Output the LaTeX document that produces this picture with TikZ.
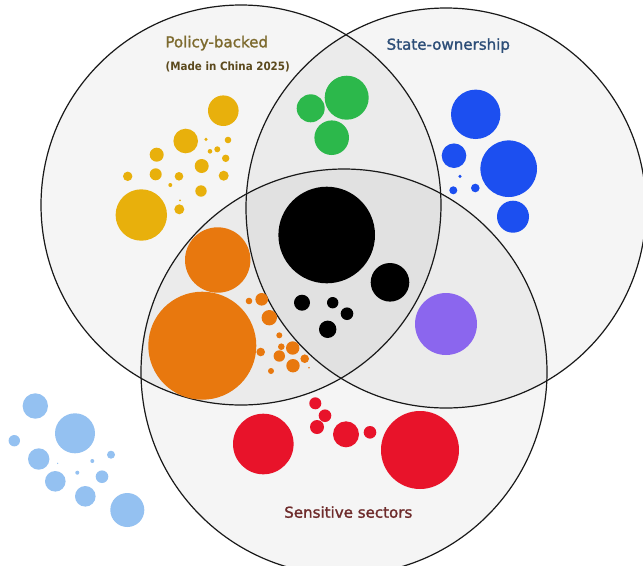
\documentclass[tikz,border=0pt]{standalone}
\usepackage{fontspec}
\setmainfont{DejaVu Sans}
\newfontfamily\lblfont{DejaVu Sans}[BoldFont=DejaVu Sans, BoldFeatures={FakeBold=1.5}]
\definecolor{cyellow}{HTML}{E8B00C}
\definecolor{corange}{HTML}{E8780E}
\definecolor{cpurple}{HTML}{8B66EE}
\definecolor{cgreen}{HTML}{2CB84B}
\definecolor{cblue}{HTML}{1C4FF0}
\definecolor{cred}{HTML}{E8132A}
\definecolor{clblue}{HTML}{94C1F1}
\definecolor{tpolicy}{HTML}{7D6A2E}
\definecolor{tmade}{HTML}{5C4A1E}
\definecolor{tstate}{HTML}{2D4E78}
\definecolor{tsens}{HTML}{6E2B2B}
\tikzset{
  setfill/.style={fill=black, fill opacity=0.04},
  setline/.style={draw=black!90, line width=0.9pt},
  biglabel/.style={font=\fontsize{11.3pt}{13pt}\lblfont\bfseries, anchor=base, inner sep=0pt},
  smalllabel/.style={font=\fontsize{8.6pt}{10pt}\selectfont\bfseries, anchor=base, inner sep=0pt}
}
\begin{document}
\begin{tikzpicture}[x=0.75pt,y=-0.75pt]
\useasboundingbox (0,0) rectangle (643,565);
\fill[white] (0,0) rectangle (643,565);
\clip (0,0) rectangle (643,565);
% set fills
\fill[setfill] (241,205) circle[radius=200];
\fill[setfill] (446,208) circle[radius=200];
\fill[setfill] (344,372) circle[radius=203];
% set outlines
\draw[setline] (241,205) circle[radius=200];
\draw[setline] (446,208) circle[radius=200];
\draw[setline] (344,372) circle[radius=203];
% yellow
\foreach \x/\y/\r in {223.3/110.7/15.3, 185.7/141/12.3, 156.7/154.7/7, 206/139.3/1.7,
  228/140/3.3, 217.3/149.3/3, 210/151.3/2.3, 225.7/158.3/3.7, 201.7/166/7,
  127.7/176.3/4.7, 155.7/174.3/6, 179/176.3/4.3, 223.7/175.7/5, 170.3/185/2,
  201/191/5.7, 180/200.3/1, 179.3/209.3/5, 141.3/215/25.7}
  \fill[cyellow] (\x,\y) circle[radius=\r];
% orange
\foreach \x/\y/\r in {217.7/260/32.7, 202.3/345.7/54, 249/301/3.3, 261.7/299.3/6.3,
  269.3/317.7/7.7, 279.3/335.3/3, 281.3/346.7/3.3, 292.7/348/6.7, 260.7/352/4.3,
  279.3/356/5.7, 304.7/358.7/4.3, 293/365.7/6.7, 271/371/3, 309/367.7/0.8}
  \fill[corange] (\x,\y) circle[radius=\r];
% black
\foreach \x/\y/\r in {326.7/235/48.3, 390/282.3/19.3, 302/302.7/8, 332.7/302.7/5.7,
  347/313.7/6.3, 327.7/329.3/8.7}
  \fill[black] (\x,\y) circle[radius=\r];
% purple
\fill[cpurple] (446,324) circle[radius=31];
% green
\foreach \x/\y/\r in {346.7/97.7/22, 310.7/108.3/14, 331.7/137.7/17.3}
  \fill[cgreen] (\x,\y) circle[radius=\r];
% blue
\foreach \x/\y/\r in {475.7/114.3/24.7, 454/155.7/12.3, 508.7/168.7/28.3, 460/176.3/1.7,
  453.3/190.3/4, 475.3/188/4.3, 513/216.7/16}
  \fill[cblue] (\x,\y) circle[radius=\r];
% red
\foreach \x/\y/\r in {263.3/444/30.3, 315.3/403.3/6, 325/415.7/6.3, 317/427/7,
  346/434.3/13, 370/432.3/6.3, 420/450/39}
  \fill[cred] (\x,\y) circle[radius=\r];
% light blue
\foreach \x/\y/\r in {35.3/406/12.7, 75/433.3/20, 14.3/440.7/5.7, 38.7/459/10.7,
  57.7/463.3/0.7, 92.3/461/2, 111/454.7/4, 77.3/472.7/2, 102/476.7/6.3,
  55.3/481.3/10.3, 85.3/496.3/10.3, 127.3/510/17}
  \fill[clblue] (\x,\y) circle[radius=\r];
% labels
\node[biglabel, text=tpolicy] (policy) at (216.7,47.3) {Policy-backed};
\node[smalllabel, text=tmade] (made) at (227.7,70) {\scalebox{0.9}[1]{(Made in China 2025)}};
\node[biglabel, text=tstate] (state) at (448.3,49.7) {State-ownership};
\node[biglabel, text=tsens] (sens) at (348.3,517.7) {Sensitive sectors};
\end{tikzpicture}
\end{document}
